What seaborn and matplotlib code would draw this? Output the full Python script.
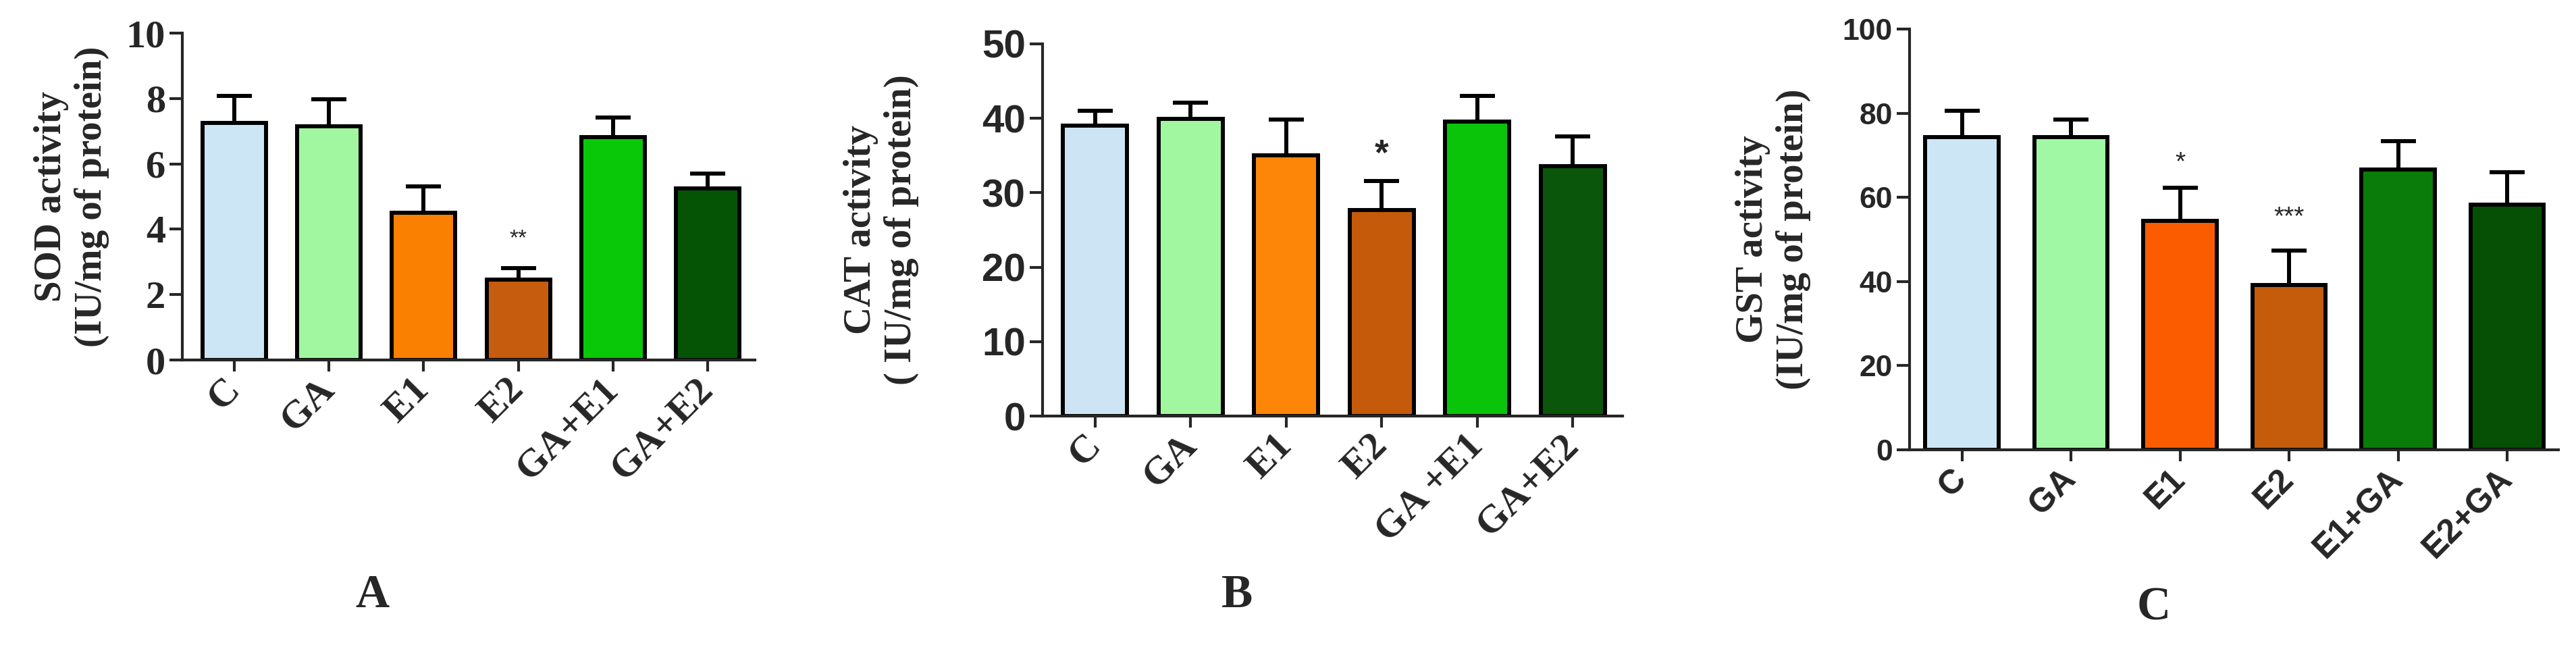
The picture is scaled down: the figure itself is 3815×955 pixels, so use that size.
import numpy as np
import pandas as pd
import matplotlib
matplotlib.use("Agg")
import matplotlib.pyplot as plt
import seaborn as sns

# Panel A - SOD
sod_groups = ["C", "GA", "E1", "E2", "GA+E1", "GA+E2"]
sod_mean = [7.25, 7.15, 4.50, 2.46, 6.82, 5.24]
sod_err = [0.82, 0.82, 0.80, 0.35, 0.60, 0.47]
sod_stars = ["", "", "", "**", "", ""]
sod_star_at = [0, 0, 0, 3.7, 0, 0]
sod_ticks = [0, 2, 4, 6, 8, 10]

# Panel B - CAT
cat_groups = ["C", "GA", "E1", "E2", "GA +E1", "GA+E2"]
cat_mean = [39.0, 39.9, 35.0, 27.7, 39.6, 33.6]
cat_err = [2.05, 2.2, 4.8, 3.9, 3.4, 4.0]
cat_stars = ["", "", "", "*", "", ""]
cat_star_at = [0, 0, 0, 35.0, 0, 0]
cat_ticks = [0, 10, 20, 30, 40, 50]

# Panel C - GST
gst_groups = ["C", "GA", "E1", "E2", "E1+GA", "E2+GA"]
gst_mean = [74.3, 74.3, 54.4, 39.2, 66.6, 58.3]
gst_err = [6.2, 4.2, 7.9, 8.1, 6.8, 7.7]
gst_stars = ["", "", "*", "***", "", ""]
gst_star_at = [0, 0, 68.2, 55.2, 0, 0]
gst_ticks = [0, 20, 40, 60, 80, 100]

colors_a = ["#cde6f6", "#a0f7a0", "#f98000", "#c55c0e", "#08c808", "#055305"]
colors_b = ["#cce4f4", "#a0f7a0", "#fd8508", "#c45a0a", "#0ac40a", "#0a560a"]
colors_c = ["#cde6f5", "#a0f8a4", "#fc5c00", "#c55c0c", "#0a7c0a", "#055005"]

sns.set_style("ticks")
plt.rcParams["font.family"] = ["Liberation Serif", "DejaVu Serif"]

SERIF = ["Liberation Serif", "DejaVu Serif"]
SANS = ["Liberation Sans", "DejaVu Sans"]

W, H = 3816, 955
fig = plt.figure(figsize=(W / 100, H / 100), dpi=100)


def make_axes(left, right, y0, ytop):
    return fig.add_axes([left / W, 1 - y0 / H, (right - left) / W, (y0 - ytop) / H])


def draw_panel(ax, groups, means, errs, colors, ticks, xlim, stars, star_at,
               ylabel, label_x, ytick_font, ytick_size, xtick_font, xtick_size,
               star_size):
    df = pd.DataFrame({"group": groups, "value": means})
    sns.barplot(data=df, x="group", y="value", hue="group", palette=colors,
                legend=False, errorbar=None, width=0.67, edgecolor="black",
                linewidth=4.3, saturation=1, ax=ax, zorder=2)
    x = np.arange(len(groups))
    # upper error bars only
    ax.errorbar(x, means, yerr=[np.zeros(len(errs)), errs], fmt="none",
                ecolor="black", elinewidth=4.3, capsize=19, capthick=4.3, zorder=1)
    for xi, s, yv in zip(x, stars, star_at):
        if s:
            ax.text(xi, yv, s, ha="center", va="center", family=SANS,
                    fontsize=star_size, fontweight="bold" if star_size > 30 else "normal")
    ax.set_xlim(*xlim)
    ax.set_ylim(ticks[0], ticks[-1])
    ax.set_yticks(ticks)
    ax.set_xlabel("")
    ax.set_ylabel(ylabel, family=SERIF, fontsize=41, fontweight="bold", linespacing=1.2)
    ax.yaxis.set_label_coords(label_x, 0.5)
    sns.despine(ax=ax)
    for sp in ["left", "bottom"]:
        ax.spines[sp].set_linewidth(3)
    ax.tick_params(axis="y", length=14, width=3, pad=4)
    ax.tick_params(axis="x", length=12, width=3, pad=14)
    ax.set_xticks(x)
    ax.set_xticklabels(groups, rotation=45, ha="right", va="center",
                       rotation_mode="anchor", family=xtick_font,
                       fontsize=xtick_size, fontweight="bold")
    for t in ax.get_yticklabels():
        t.set_family(ytick_font)
        t.set_fontsize(ytick_size)
        t.set_fontweight("bold")


ax_a = make_axes(270, 1118, 533, 49)
draw_panel(ax_a, sod_groups, sod_mean, sod_err, colors_a, sod_ticks, (-0.55, 5.5),
           sod_stars, sod_star_at, "SOD activity\n(IU/mg of protein)", -0.127,
           SERIF, 42, SERIF, 42, 24)

ax_b = make_axes(1544, 2403, 616, 65)
draw_panel(ax_b, cat_groups, cat_mean, cat_err, colors_b, cat_ticks, (-0.55, 5.52),
           cat_stars, cat_star_at, "CAT activity\n( IU/mg of protein)", -0.213,
           SANS, 42, SERIF, 42, 38)

ax_c = make_axes(2828, 3789, 666, 43)
draw_panel(ax_c, gst_groups, gst_mean, gst_err, colors_c, gst_ticks, (-0.48, 5.47),
           gst_stars, gst_star_at, "GST activity\n(IU/mg of protein)", -0.152,
           SANS, 32, SANS, 36, 28)

fig.text(551 / W, 1 - 882 / H, "A", ha="center", va="center", family=SERIF,
         fontsize=50, fontweight="bold")
fig.text(1832 / W, 1 - 882 / H, "B", ha="center", va="center", family=SERIF,
         fontsize=50, fontweight="bold")
fig.text(3190 / W, 1 - 900 / H, "C", ha="center", va="center", family=SERIF,
         fontsize=50, fontweight="bold")

fig.savefig("out.png", dpi=100, facecolor="white")
